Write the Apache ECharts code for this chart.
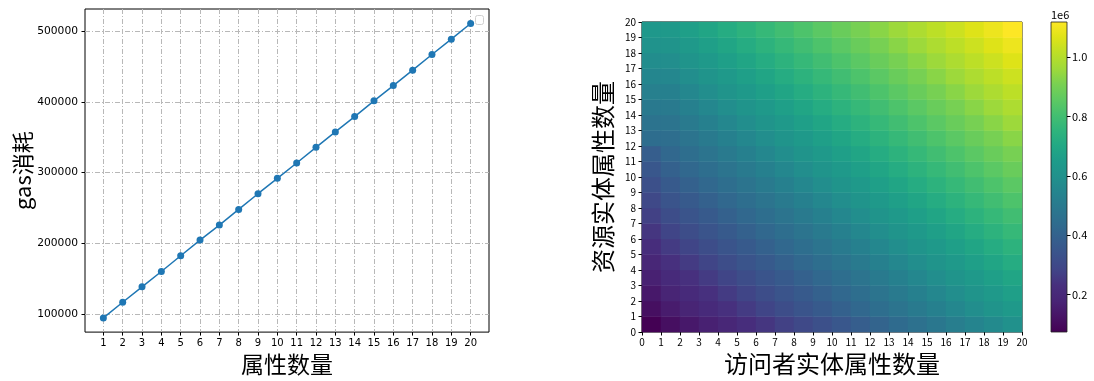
<!DOCTYPE html>
<html>
<head>
<meta charset="utf-8">
<script src="https://cdn.jsdelivr.net/npm/echarts@6/dist/echarts.min.js"></script>
<style>
html,body{margin:0;padding:0;background:#fff;}
#chart{width:1094px;height:381px;}
</style>
</head>
<body>
<div id="chart"></div>
<script>
// ---- Left chart data ----
const attrCounts = [1,2,3,4,5,6,7,8,9,10,11,12,13,14,15,16,17,18,19,20];
const gasValues = [94300,116500,138300,160000,182300,204500,225800,248000,270200,292000,313700,335900,357700,379400,401700,423400,445200,467400,489100,511300];
const lineXTicks = [1,2,3,4,5,6,7,8,9,10,11,12,13,14,15,16,17,18,19,20];
const lineYTicks = [100000,200000,300000,400000,500000];

// ---- Right chart data (rows: resource attrs 0..19, cols: visitor attrs 0..19) ----
const heatCats = ['0','1','2','3','4','5','6','7','8','9','10','11','12','13','14','15','16','17','18','19'];
const heatValues = [
 [74000,114000,141000,168000,194000,221000,248000,275000,302000,328000,355000,382000,409000,436000,462000,489000,516000,543000,570000,596000],
 [114000,154000,181000,208000,234000,261000,288000,315000,342000,368000,395000,422000,449000,476000,502000,529000,556000,583000,610000,636000],
 [141000,181000,208000,234000,261000,288000,315000,342000,368000,395000,422000,449000,476000,502000,529000,556000,583000,610000,636000,663000],
 [168000,208000,234000,261000,288000,315000,342000,368000,395000,422000,449000,476000,502000,529000,556000,583000,610000,636000,663000,690000],
 [194000,234000,261000,288000,315000,342000,368000,395000,422000,449000,476000,502000,529000,556000,583000,610000,636000,663000,690000,717000],
 [221000,261000,288000,315000,342000,368000,395000,422000,449000,476000,502000,529000,556000,583000,610000,636000,663000,690000,717000,744000],
 [248000,288000,315000,342000,368000,395000,422000,449000,476000,502000,529000,556000,583000,610000,636000,663000,690000,717000,744000,770000],
 [275000,315000,342000,368000,395000,422000,449000,476000,502000,529000,556000,583000,610000,636000,663000,690000,717000,744000,770000,797000],
 [302000,342000,368000,395000,422000,449000,476000,502000,529000,556000,583000,610000,636000,663000,690000,717000,744000,770000,797000,824000],
 [328000,368000,395000,422000,449000,476000,502000,529000,556000,583000,610000,636000,663000,690000,717000,744000,770000,797000,824000,851000],
 [355000,395000,422000,449000,476000,502000,529000,556000,583000,610000,636000,663000,690000,717000,744000,770000,797000,824000,851000,878000],
 [382000,422000,449000,476000,502000,529000,556000,583000,610000,636000,663000,690000,717000,744000,770000,797000,824000,851000,878000,904000],
 [445000,449000,476000,502000,529000,556000,583000,610000,636000,663000,690000,717000,744000,770000,797000,824000,851000,878000,904000,931000],
 [472000,476000,502000,529000,556000,583000,610000,636000,663000,690000,717000,744000,770000,797000,824000,851000,878000,904000,931000,958000],
 [498000,502000,529000,556000,583000,610000,636000,663000,690000,717000,744000,770000,797000,824000,851000,878000,904000,931000,958000,985000],
 [525000,529000,556000,583000,610000,636000,663000,690000,717000,744000,770000,797000,824000,851000,878000,904000,931000,958000,985000,1012000],
 [552000,556000,583000,610000,636000,663000,690000,717000,744000,770000,797000,824000,851000,878000,904000,931000,958000,985000,1012000,1038000],
 [579000,583000,610000,636000,663000,690000,717000,744000,770000,797000,824000,851000,878000,904000,931000,958000,985000,1012000,1038000,1065000],
 [606000,610000,636000,663000,690000,717000,744000,770000,797000,824000,851000,878000,904000,931000,958000,985000,1012000,1038000,1065000,1092000],
 [632000,636000,663000,690000,717000,744000,770000,797000,824000,851000,878000,904000,931000,958000,985000,1012000,1038000,1065000,1092000,1119000]
];
const heatMin = 74000;
const heatMax = 1119000;
const colorbarTicks = [200000,400000,600000,800000,1000000];

const viridis = ['#440154','#471365','#482475','#472f7d','#414487','#3b528b','#355f8d','#2f6c8e','#2a788e','#25848e','#21918c','#1e9b8a','#22a884','#2fb47c','#44bf70','#5ec962','#7ad151','#a0da39','#bddf26','#dfe318','#fde725'];

const lineData = attrCounts.map((c, i) => [c, gasValues[i]]);
const heatData = [];
heatValues.forEach((row, y) => row.forEach((v, x) => heatData.push([x, y, v])));

const cbGradient = {
  type: 'linear', x: 0, y: 1, x2: 0, y2: 0,
  colorStops: viridis.map((c, i) => ({offset: i / (viridis.length - 1), color: c}))
};

const latin = 'DejaVu Sans';
const cjk = 'Noto Sans CJK SC';
const gridLine = {show: true, lineStyle: {color: '#b8b8b8', width: 1, type: [5, 2, 1, 2]}};

const chart = echarts.init(document.getElementById('chart'), null, {renderer: 'canvas'});
chart.setOption({
  animation: false,
  backgroundColor: '#fff',
  grid: [
    {left: 85, top: 9, width: 404, height: 324, show: true, borderColor: '#000', borderWidth: 1, backgroundColor: 'transparent', containLabel: false},
    {left: 642, top: 22, width: 380, height: 310, show: true, borderColor: '#000', borderWidth: 1, backgroundColor: 'transparent', containLabel: false},
    {left: 1051, top: 22, width: 16, height: 310, show: true, borderColor: '#222', borderWidth: 0.8, backgroundColor: cbGradient, containLabel: false}
  ],
  xAxis: [
    {gridIndex: 0, type: 'value', min: 0.05, max: 20.95,
     axisLine: {show: false, onZero: false},
     axisTick: {show: true, length: 3.5, customValues: lineXTicks, lineStyle: {color: '#000', width: 1}},
     axisLabel: {customValues: lineXTicks, margin: 6, fontSize: 10, fontFamily: latin, color: '#000'},
     splitLine: gridLine,
     name: '属性数量', nameLocation: 'middle', nameGap: 20,
     nameTextStyle: {fontSize: 23, fontFamily: cjk, color: '#000'}},
    {gridIndex: 1, type: 'category', data: heatCats, show: false},
    {gridIndex: 1, type: 'value', min: 0, max: 20, interval: 1, position: 'bottom',
     axisLine: {show: false, onZero: false},
     axisTick: {show: true, length: 3.5, lineStyle: {color: '#000', width: 1}},
     axisLabel: {margin: 5, fontSize: 10, fontFamily: cjk, color: '#000', showMinLabel: true, showMaxLabel: true},
     splitLine: {show: false},
     name: '访问者实体属性数量', nameLocation: 'middle', nameGap: 19,
     nameTextStyle: {fontSize: 24, fontFamily: cjk, color: '#000'}},
    {gridIndex: 2, type: 'value', min: 0, max: 1, show: false}
  ],
  yAxis: [
    {gridIndex: 0, type: 'value', min: 74200, max: 531800,
     axisLine: {show: false, onZero: false},
     axisTick: {show: true, length: 3.5, customValues: lineYTicks, lineStyle: {color: '#000', width: 1}},
     axisLabel: {customValues: lineYTicks, margin: 7, fontSize: 10.7, fontFamily: latin, color: '#000',
       formatter: v => String(v)},
     splitLine: gridLine,
     name: 'gas消耗', nameLocation: 'middle', nameGap: 49,
     nameTextStyle: {fontSize: 22, fontFamily: cjk, color: '#000'}},
    {gridIndex: 1, type: 'category', data: heatCats, show: false, position: 'left'},
    {gridIndex: 1, type: 'value', min: 0, max: 20, interval: 1, position: 'left',
     axisLine: {show: false, onZero: false},
     axisTick: {show: true, length: 3.5, lineStyle: {color: '#000', width: 1}},
     axisLabel: {margin: 6, fontSize: 10, fontFamily: cjk, color: '#000', showMinLabel: true, showMaxLabel: true},
     splitLine: {show: false},
     name: '资源实体属性数量', nameLocation: 'middle', nameGap: 27,
     nameTextStyle: {fontSize: 24, fontFamily: cjk, color: '#000'}},
    {gridIndex: 2, type: 'value', min: heatMin, max: heatMax, position: 'right',
     axisLine: {show: false, onZero: false},
     axisTick: {show: true, length: 3.5, customValues: colorbarTicks, lineStyle: {color: '#000', width: 1}},
     axisLabel: {customValues: colorbarTicks, margin: 5, fontSize: 11, fontFamily: cjk, color: '#000',
       formatter: v => (v / 1e6).toFixed(1)},
     splitLine: {show: false}}
  ],
  visualMap: {
    type: 'continuous', show: false, seriesIndex: 1, dimension: 2,
    min: heatMin, max: heatMax, inRange: {color: viridis}
  },
  series: [
    {type: 'line', xAxisIndex: 0, yAxisIndex: 0, data: lineData,
     symbol: 'circle', symbolSize: 7, showSymbol: true,
     lineStyle: {color: '#1f77b4', width: 1.5}, itemStyle: {color: '#1f77b4'}, z: 3},
    {type: 'heatmap', xAxisIndex: 1, yAxisIndex: 1, data: heatData,
     itemStyle: {borderWidth: 0}, emphasis: {disabled: true}, progressive: 0}
  ],
  graphic: [
    {type: 'rect', left: 475, top: 15, shape: {width: 8, height: 9, r: 2},
     style: {fill: '#fff', stroke: '#d0d0d0', lineWidth: 1}, z: 100},
    {type: 'text', left: 1051, top: 9,
     style: {text: '1e6', font: '11px "Noto Sans CJK SC"', fill: '#000'}, z: 100}
  ]
});
</script>
</body>
</html>
